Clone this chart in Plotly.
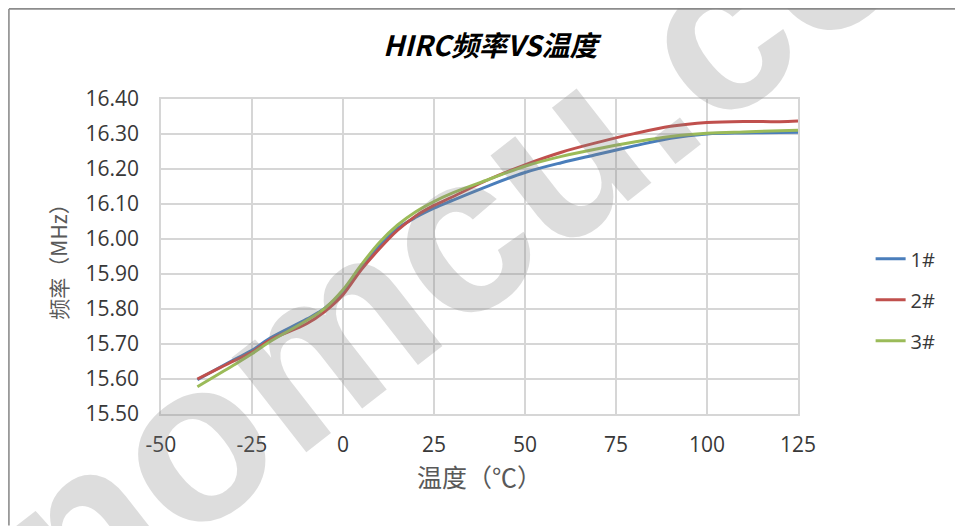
import plotly.graph_objects as go

# Temperature (°C)
temps = [-40, -30, -25, -20, -10, -5, 0, 5, 10, 15, 20, 25, 30, 40, 50, 60, 70, 80, 90, 100, 110, 120, 125]

# Frequency (MHz) for each sample
s1 = [15.598, 15.655, 15.682, 15.717, 15.771, 15.802, 15.850, 15.921, 15.982, 16.030, 16.062, 16.088, 16.110,
      16.152, 16.190, 16.218, 16.242, 16.266, 16.288, 16.300, 16.303, 16.304, 16.305]
s2 = [15.600, 15.652, 15.677, 15.712, 15.758, 15.793, 15.841, 15.912, 15.972, 16.025, 16.066, 16.096, 16.120,
      16.170, 16.212, 16.248, 16.276, 16.301, 16.322, 16.333, 16.336, 16.335, 16.337]
s3 = [15.578, 15.640, 15.672, 15.707, 15.767, 15.802, 15.855, 15.926, 15.990, 16.040, 16.078, 16.107, 16.131,
      16.170, 16.208, 16.236, 16.258, 16.277, 16.293, 16.302, 16.306, 16.309, 16.311]

names = ["1#", "2#", "3#"]
colors = ["#4A7EBB", "#C0504D", "#9BBB59"]
series = [s1, s2, s3]

x_ticks = [-50, -25, 0, 25, 50, 75, 100, 125]
y_ticks = [15.50, 15.60, 15.70, 15.80, 15.90, 16.00, 16.10, 16.20, 16.30, 16.40]

W, H = 955, 518
L, R, T, B = 153, 164.5, 91, 111.7
PW, PH = W - L - R, H - T - B

fig = go.Figure()
for name, col, ys in zip(names, colors, series):
    fig.add_trace(go.Scatter(
        x=temps, y=ys, name=name, mode="lines",
        line=dict(color=col, width=3, shape="spline", smoothing=1.0),
        legendgroup=name,
    ))

tick_font = dict(family="Open Sans, Noto Sans CJK SC, sans-serif", size=21, color="#383838")
grid_col = "#D6D6D6"

fig.update_layout(
    width=W, height=H,
    margin=dict(l=L, r=R, t=T, b=B),
    paper_bgcolor="white", plot_bgcolor="rgba(0,0,0,0)",
    title=dict(
        text="<b><i>HIRC频率VS温度</i></b>",
        x=0.505, xanchor="center", y=0.927, yanchor="middle",
        font=dict(family="Noto Sans CJK SC, sans-serif", size=28, color="#000000"),
    ),
    xaxis=dict(
        range=[-50, 125], tickvals=x_ticks, ticktext=[str(v) for v in x_ticks],
        showgrid=True, gridcolor=grid_col, gridwidth=1.5,
        showline=True, linecolor=grid_col, linewidth=1.5, mirror=True,
        zeroline=False, ticks="", tickfont=tick_font, ticklabelstandoff=11,
        title=dict(text="温度（℃）", standoff=11,
                   font=dict(family="Noto Sans CJK SC, sans-serif", size=25, color="#595959")),
    ),
    yaxis=dict(
        range=[15.50, 16.40], tickvals=y_ticks, ticktext=[f"{v:.2f}" for v in y_ticks],
        showgrid=True, gridcolor=grid_col, gridwidth=1.5,
        showline=True, linecolor=grid_col, linewidth=1.5, mirror=True,
        zeroline=False, ticks="", tickfont=tick_font, ticklabelstandoff=16,
        title=dict(text="频率（MHz）", standoff=12,
                   font=dict(family="Noto Sans CJK SC, sans-serif", size=21, color="#595959")),
    ),
    legend=dict(
        x=1.114, xanchor="left", y=0.3625, yanchor="middle",
        font=dict(family="Open Sans, Noto Sans CJK SC, sans-serif", size=20, color="#383838"),
        tracegroupgap=12, bgcolor="rgba(0,0,0,0)",
    ),
    showlegend=True,
)

# outer chart border (top and left edges of the chart area)
bx = (0.8 - L) / PW
by = (H - 0.8 - B) / PH
fig.add_shape(type="line", xref="paper", yref="paper", x0=bx, x1=(W - L) / PW, y0=by, y1=by,
              line=dict(color="#8C8C8C", width=1.6))
fig.add_shape(type="line", xref="paper", yref="paper", x0=bx, x1=bx, y0=by, y1=-B / PH,
              line=dict(color="#8C8C8C", width=1.6))

# watermark
fig.add_annotation(
    text="<b>sinomcu.com</b>", xref="paper", yref="paper",
    x=(447 - L) / PW, y=(H - B - 228) / PH, xanchor="center", yanchor="middle",
    showarrow=False, textangle=-38,
    font=dict(family="Liberation Sans, Arial, sans-serif", size=228, color="rgba(128,128,128,0.27)"),
)

fig.write_html("out.html")
